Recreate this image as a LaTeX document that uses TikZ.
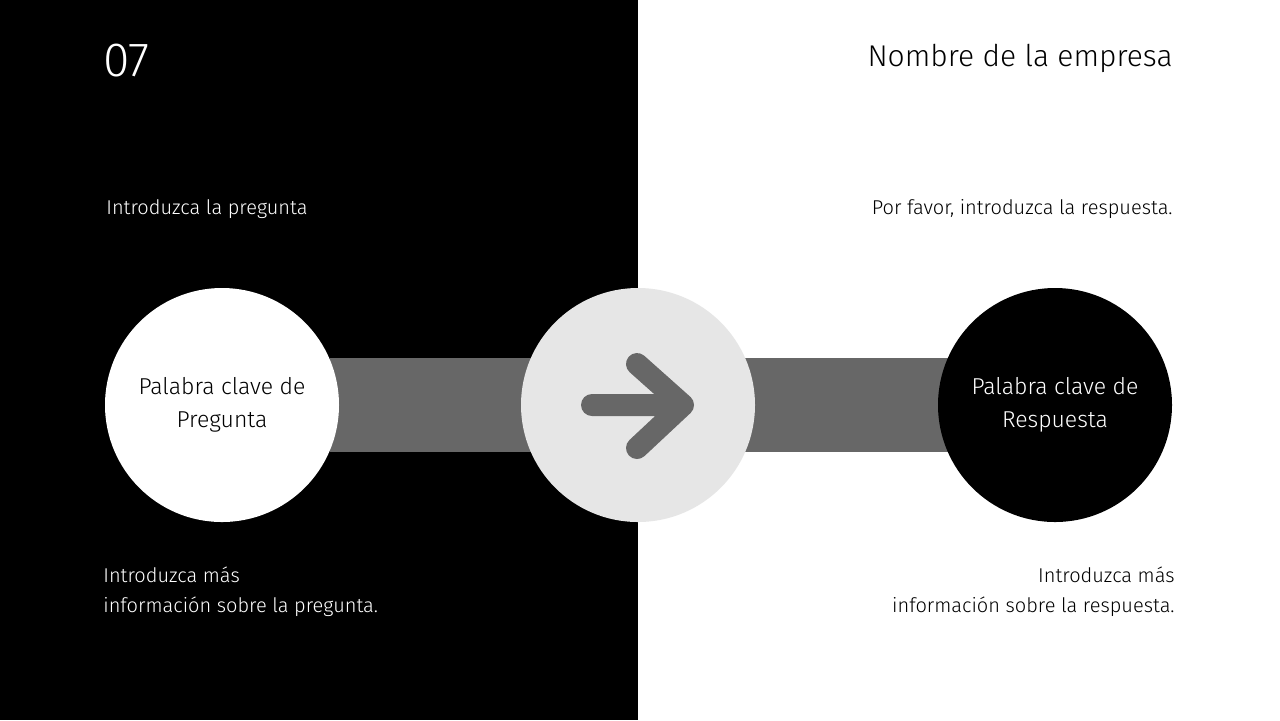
\documentclass[tikz,border=0pt]{standalone}
\usepackage{fontspec}
\setmainfont{Fira Sans Light}[BoldFont=Fira Sans]
\definecolor{bargray}{HTML}{676767}
\definecolor{midgray}{HTML}{E6E6E6}
\begin{document}
\begin{tikzpicture}[x=0.5pt,y=-0.5pt,
  txt/.style={inner sep=0pt,font=\fontsize{10}{15}\selectfont},
  bar/.style={fill=bargray,draw=none},
  circ/.style={circle,minimum size=117pt,inner sep=0pt,align=center,font=\fontsize{11.5}{16.5}\selectfont}]
\useasboundingbox (0,0) rectangle (1280,720);
\fill[white] (0,0) rectangle (1280,720);
\fill[black] (0,0) rectangle (638,720);
\fill[bargray] (330,358) rectangle (540,452);
\fill[bargray] (745,358) rectangle (950,452);
\node[circ,fill=white,text=black] (q) at (222,405) {Palabra clave de\\Pregunta};
\node[circ,fill=midgray] (m) at (638,405) {};
\node[circ,fill=black,text=white] (r) at (1055,405) {Palabra clave de\\Respuesta};
\coordinate (a1) at (592,405);
\coordinate (a2) at (683,405);
\coordinate (c1) at (637,364);
\coordinate (c2) at (637,448);
\draw[bargray,line width=11pt,line cap=round,line join=round] (a1) -- (a2) (c1) -- (a2) -- (c2);
\node[txt,anchor=north west,text=white,font=\fontsize{24}{24}\selectfont] (n) at (103,44) {07};
\node[txt,anchor=north east,font=\fontsize{15}{15}\selectfont] (t) at (1173,44) {Nombre de la empresa};
\node[txt,anchor=west,text=white] (iq) at (106,209) {Introduzca la pregunta};
\node[txt,anchor=east] (ir) at (1173,209) {Por favor, introduzca la respuesta.};
\node[txt,anchor=north west,text=white,align=left] (mq) at (103,566) {Introduzca más\\información sobre la pregunta.};
\node[txt,anchor=north east,align=right] (mr) at (1175,566) {Introduzca más\\información sobre la respuesta.};
\end{tikzpicture}
\end{document}
